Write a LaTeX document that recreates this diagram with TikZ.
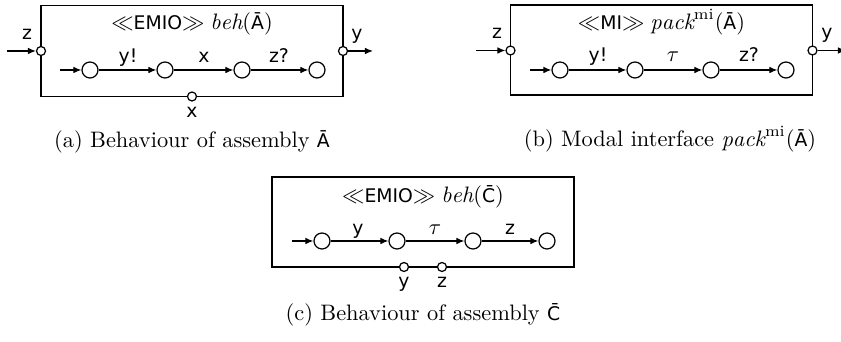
\documentclass[tikz,border=0pt]{standalone}
\usepackage{fontspec}
\setsansfont{DejaVu Sans}[Scale=0.84]
\usetikzlibrary{arrows.meta}
\tikzset{
  dfont/.style={font=\fontsize{10}{12}\selectfont\sffamily},
  cfont/.style={font=\fontsize{10}{12}\selectfont\rmfamily},
  comp/.style={draw, line width=0.55pt, minimum width={302*0.447pt}, minimum height={91*0.447pt}, inner sep=0pt},
  state/.style={draw, circle, line width=0.55pt, minimum size={16*0.447pt}, inner sep=0pt},
  port/.style={draw, circle, fill=white, line width=0.55pt, minimum size={9*0.447pt}, inner sep=0pt},
  trans/.style={line width=0.55pt, -{Latex[length=3.6pt,width=3pt]}},
  lbl/.style={dfont, anchor=base, inner sep=0pt},
}
\begin{document}
\begin{tikzpicture}[x=0.447pt,y=-0.447pt]
\useasboundingbox (0,0) rectangle (841,342);

% ---------------- (a)
\node[comp] (boxA) at (192,51) {};
\node[lbl] (titleA) at (192,29.5) {$\ll$EMIO$\gg$ $\mathit{beh}(\textsf{Ā})$};
\node[port] (pAz) at (41,51) {};
\node[port] (pAy) at (343,51) {};
\node[port] (pAx) at (192,96.5) {};
\coordinate (inAz) at (7,51);
\coordinate (outAy) at (373,51);
\draw[trans] (inAz) -- (pAz);
\draw[trans] (pAy) -- (outAy);
\node[lbl] (lAz) at (27,40) {z};
\node[lbl] (lAy) at (357,40) {y};
\node[lbl] (lAx) at (192,118) {x};
\node[state] (a1) at (90,70) {};
\node[state] (a2) at (165,70) {};
\node[state] (a3) at (242,70) {};
\node[state] (a4) at (317,70) {};
\coordinate (a0) at (60,70);
\draw[trans] (a0) -- (a1);
\draw[trans] (a1) -- (a2);
\draw[trans] (a2) -- (a3);
\draw[trans] (a3) -- (a4);
\node[lbl] (ta1) at (128,63) {y!};
\node[lbl] (ta2) at (204,63) {x};
\node[lbl] (ta3) at (279,63) {z?};
\node[cfont, anchor=base] (capA) at (192,148) {(a) Behaviour of assembly \textsf{Ā}};

% ---------------- (b)
\node[comp, minimum height={90*0.447pt}] (boxB) at (661.5,50) {};
\node[lbl] (titleB) at (661.5,29.5) {$\ll$MI$\gg$ $\mathit{pack}^{\mathrm{mi}}(\textsf{Ā})$};
\node[port] (pBz) at (510.5,50.5) {};
\node[port] (pBy) at (812.5,50.5) {};
\coordinate (inBz) at (476,50.5);
\coordinate (outBy) at (846,50.5);
\draw[trans] (inBz) -- (pBz);
\draw[trans] (pBy) -- (outBy);
\node[lbl] (lBz) at (497,39) {z};
\node[lbl] (lBy) at (827,39) {y};
\node[state] (b1) at (560,70) {};
\node[state] (b2) at (635,70) {};
\node[state] (b3) at (711,70) {};
\node[state] (b4) at (786,70) {};
\coordinate (b0) at (530,70);
\draw[trans] (b0) -- (b1);
\draw[trans] (b1) -- (b2);
\draw[trans] (b2) -- (b3);
\draw[trans] (b3) -- (b4);
\node[lbl] (tb1) at (598,62) {y!};
\node[lbl] (tb2) at (673,62) {$\tau$};
\node[lbl] (tb3) at (749,62) {z?};
\node[cfont, anchor=base] (capB) at (670,147) {(b) Modal interface $\mathit{pack}^{\mathrm{mi}}(\textsf{Ā})$};

% ---------------- (c)
\node[comp, minimum height={90*0.447pt}] (boxC) at (423,222) {};
\node[lbl] (titleC) at (423,203) {$\ll$EMIO$\gg$ $\mathit{beh}(\textsf{C̄})$};
\node[port] (pCy) at (404,267) {};
\node[port] (pCz) at (442,267) {};
\node[lbl] (lCy) at (404,288) {y};
\node[lbl] (lCz) at (442,288) {z};
\node[state] (c1) at (322,241) {};
\node[state] (c2) at (397,241) {};
\node[state] (c3) at (473,241) {};
\node[state] (c4) at (547,241) {};
\coordinate (c0) at (292,241);
\draw[trans] (c0) -- (c1);
\draw[trans] (c1) -- (c2);
\draw[trans] (c2) -- (c3);
\draw[trans] (c3) -- (c4);
\node[lbl] (tc1) at (358,235) {y};
\node[lbl] (tc2) at (435,235) {$\tau$};
\node[lbl] (tc3) at (510,235) {z};
\node[cfont, anchor=base] (capC) at (423,321) {(c) Behaviour of assembly \textsf{C̄}};
\end{tikzpicture}
\end{document}
